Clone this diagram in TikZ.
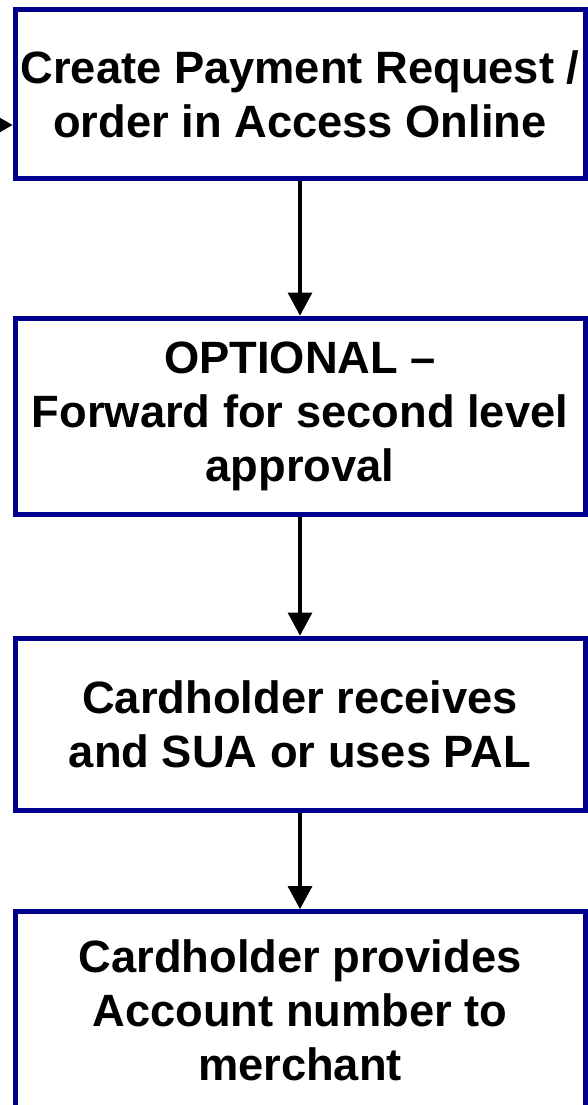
\documentclass[tikz,border=0pt]{standalone}
\usepackage{fontspec}
\setmainfont{Liberation Sans}
\usetikzlibrary{arrows.meta}
\definecolor{boxblue}{RGB}{0,0,140}
\begin{document}
\begin{tikzpicture}[x=1pt,y=-1pt,
  stepbox/.style={draw=boxblue, fill=white, line width=5pt, rectangle, inner sep=0pt,
    minimum width=570pt, align=center, text=black,
    font=\bfseries\fontsize{45.3}{54}\selectfont},
  flow/.style={draw=black, line width=4pt, -{Triangle[length=23pt,width=25pt,line width=0pt]}},
  inflow/.style={draw=black, line width=2.5pt, -{Triangle[length=13pt,width=15pt,line width=0pt]}}]
\clip (0,0) rectangle (588,1105);
\fill[white] (0,0) rectangle (588,1105);
\node[stepbox, minimum height=168pt] (b1) at (300,94) {Create Payment Request /\\order in Access Online};
\node[stepbox, minimum height=196pt] (b2) at (300,416) {OPTIONAL --\\Forward for second level\\approval};
\node[stepbox, minimum height=172pt] (b3) at (300,724) {Cardholder receives\\and SUA or uses PAL};
\node[stepbox, minimum height=197pt] (b4) at (300,1010) {Cardholder provides\\Account number to\\merchant};
\coordinate (in) at (-10,125);
\draw[inflow] (in) -- (in -| b1.west);
\draw[flow] (b1) -- (b2);
\draw[flow] (b2) -- (b3);
\draw[flow] (b3) -- (b4);
\end{tikzpicture}
\end{document}
